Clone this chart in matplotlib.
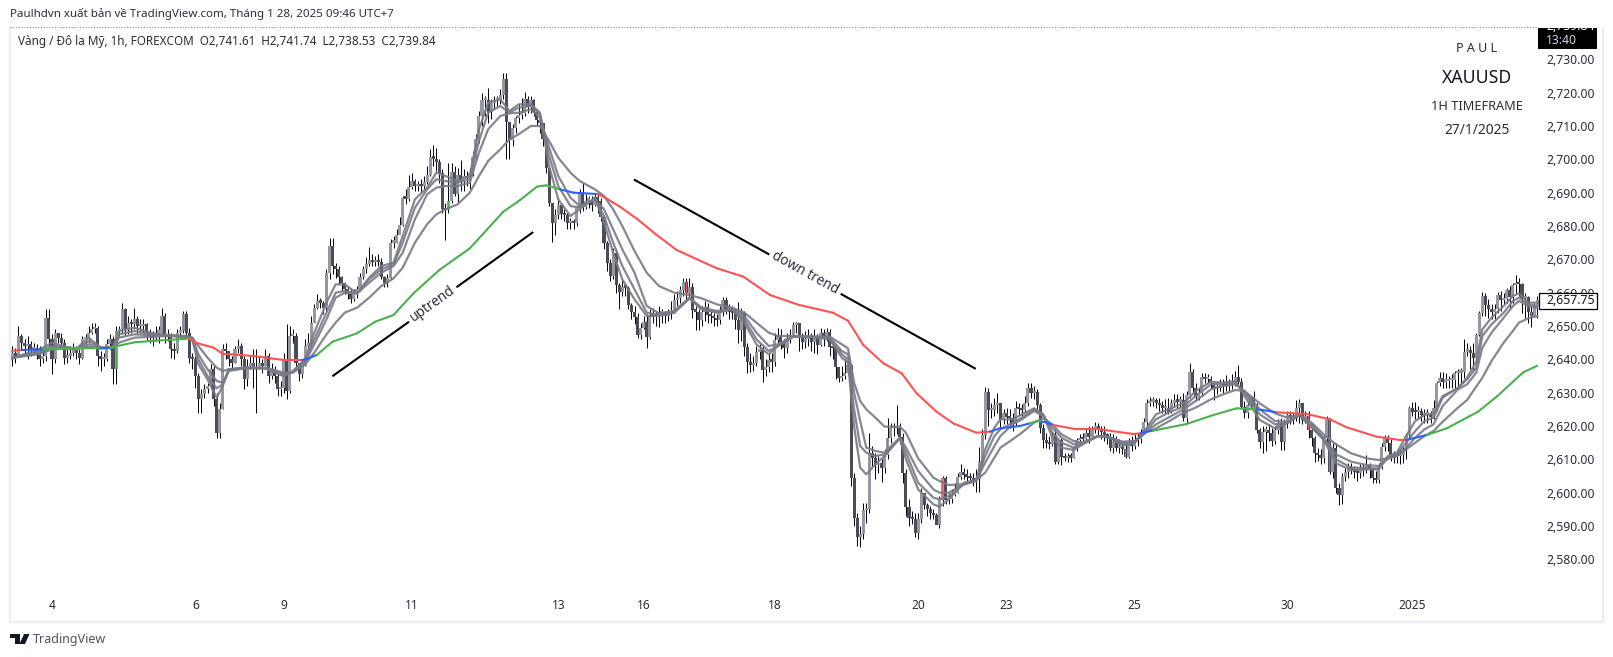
import matplotlib
matplotlib.use("Agg")
import matplotlib.pyplot as plt
from matplotlib.patches import Rectangle, Polygon
from matplotlib.lines import Line2D

plt.rcParams['font.family'] = ['Noto Sans', 'DejaVu Sans']

# gia dong cua, cao, thap theo tung nen 1h
closes = [
    2640, 2642, 2641, 2647, 2645, 2644, 2644.5, 2643, 2643.5, 2642,
    2640, 2641, 2652.5, 2646, 2640, 2648, 2646.5, 2645, 2640.5, 2641,
    2642, 2643.5, 2642, 2640.5, 2646, 2646, 2648, 2649, 2649.5, 2641,
    2640, 2640, 2644.5, 2646, 2637, 2648.5, 2649, 2655, 2649, 2651,
    2650.5, 2652, 2650, 2650, 2650.5, 2648, 2647, 2646.5, 2648, 2648,
    2653, 2647, 2647.5, 2643, 2642.5, 2648, 2648.5, 2653.5, 2648, 2640.5,
    2640, 2635, 2628, 2629.5, 2631, 2632, 2637, 2628, 2618, 2625,
    2643, 2642.5, 2640, 2639, 2643, 2644, 2640, 2634, 2638, 2639,
    2637, 2637.5, 2639, 2638, 2641, 2635, 2637, 2635, 2631, 2631.5,
    2640, 2630.5, 2647, 2647, 2639, 2635.5, 2638, 2644, 2645, 2651,
    2655.3, 2657.5, 2657, 2655.5, 2665.8, 2674, 2668, 2667, 2664.8, 2662.8,
    2661, 2659.5, 2658, 2659.5, 2661, 2664.8, 2667.2, 2668.7, 2669.7, 2669.2,
    2669.7, 2669.2, 2664.8, 2662.8, 2664.3, 2675, 2675, 2677.4, 2680.3, 2688.3,
    2688.2, 2691.8, 2693.4, 2692, 2692.5, 2692, 2693.2, 2695.4, 2700.8, 2700.2,
    2699.3, 2696, 2685.2, 2684.7, 2687.6, 2696.3, 2689.7, 2695.2, 2693.4, 2695,
    2694.4, 2696, 2700.8, 2706, 2712.9, 2717.7, 2717.7, 2714.3, 2716.8, 2717.7,
    2717.7, 2719.2, 2724.2, 2711.3, 2705.8, 2709.3, 2712.3, 2713.3, 2713.8, 2718.2,
    2715.8, 2717.7, 2714.3, 2711.9, 2710.9, 2706, 2697.3, 2686.9, 2680.8, 2683.2,
    2686.2, 2683.7, 2683.2, 2680.8, 2681.3, 2680.8, 2685.3, 2689.6, 2685.7, 2687.6,
    2687.6, 2686.2, 2688.6, 2687.6, 2682.7, 2675, 2668.8, 2665, 2672, 2662.3,
    2660.3, 2661.8, 2661.5, 2656.3, 2654.3, 2652.8, 2647.3, 2649.3, 2651.3, 2646.8,
    2653.3, 2652.8, 2653.3, 2653.8, 2653.8, 2653, 2653.5, 2654.8, 2657.8, 2658.3,
    2660.8, 2663.3, 2659.8, 2661.8, 2654.8, 2654.3, 2651.8, 2654.3, 2655.8, 2653.3,
    2653, 2652.3, 2651.8, 2654.3, 2657.8, 2655, 2654.3, 2654, 2651.8, 2648.8,
    2653.8, 2643.8, 2639.3, 2638.3, 2638.8, 2642.3, 2642.8, 2636.8, 2637.8, 2639.8,
    2639.3, 2645.8, 2647.3, 2645.3, 2643.3, 2646.3, 2647.3, 2650.3, 2650.8, 2646.3,
    2645.3, 2646, 2646.3, 2645.3, 2646.3, 2644.3, 2647.8, 2646.8, 2648.3, 2643.8,
    2643.3, 2637.8, 2634.3, 2635, 2636, 2638.3, 2604.3, 2592.3, 2586.8, 2587.5,
    2594.8, 2595, 2611.8, 2610.3, 2608.3, 2608.8, 2607.3, 2611.3, 2616.3, 2619.3,
    2619.8, 2619.3, 2616.8, 2605.8, 2595.8, 2592.3, 2592, 2587.8, 2592, 2599.8,
    2596.3, 2595, 2593.8, 2593.3, 2590.3, 2597.8, 2604.3, 2597.8, 2598, 2599.3,
    2600, 2604.8, 2606.3, 2605.3, 2604.8, 2604.3, 2603.8, 2604, 2609.3, 2617.3,
    2630.3, 2624.8, 2624.8, 2626.3, 2627,
    2621.8, 2623.8, 2622.8, 2622.3, 2620.8, 2625.3, 2625, 2624.8, 2626.8, 2631.3,
    2629.8, 2630.3, 2626.3, 2619.3, 2615.8, 2614.8, 2614.6, 2617.3, 2609.3, 2615.8,
    2610.8, 2610.3, 2610.8, 2610.5, 2613.3, 2615.8, 2616.3, 2616, 2617.8, 2616.8,
    2618.8, 2620.1, 2618.8, 2618.3, 2617.3, 2616.8, 2613.3, 2615.3, 2613.3, 2613.8,
    2613, 2610.8, 2614.8, 2614, 2615.8, 2616, 2618.3, 2621.3, 2626.8, 2627.3,
    2627.5, 2627, 2626.3, 2625.3, 2625.5, 2624.3, 2626.8, 2627.8, 2627.3, 2627.8,
    2622.3, 2629.3, 2636.3, 2631.3, 2628.8, 2630, 2634.8, 2634, 2634.2, 2632.8,
    2631.3, 2631.5, 2632.5, 2632.3, 2632, 2632.3, 2633, 2634.6, 2633.3, 2625.8,
    2623.8, 2626.3, 2628.8, 2625.8, 2618.8, 2615.3, 2618.3, 2618.8, 2618, 2615.6,
    2618.8, 2620.8, 2615.3, 2620.8, 2623.3, 2622.3, 2622.3, 2625.3, 2626.8, 2621.8,
    2623, 2618.8, 2616.3, 2611.8, 2611.3, 2610.3, 2616.3, 2621.8, 2606.3, 2613.3,
    2601.3, 2599.3, 2604.8, 2606.3, 2607.8, 2606.8, 2606.3, 2605.8, 2607, 2606.8,
    2608.3, 2607, 2604.3, 2603.8, 2607.8, 2613.8, 2616.3, 2615, 2611.3, 2610.8,
    2611, 2611.3, 2613, 2617.3, 2625.3, 2624.3, 2624.2, 2624.5, 2623.3, 2623.5,
    2623.6, 2622.8, 2625.3, 2632.8, 2634.3, 2633.3, 2633.5, 2633.8, 2633.8, 2635.8,
    2636, 2636.3, 2642.3, 2642.8, 2641.8, 2640.3, 2647.3, 2653.8, 2659.1, 2656.3,
    2655, 2654.3, 2655, 2659.3, 2657.8, 2658, 2660.8, 2658.8, 2662.3, 2662.8,
    2662.5, 2658.3, 2658.8, 2654.3, 2653, 2656, 2657.75,
]

highs = [
    2642, 2644, 2643.5, 2650, 2647.5, 2646, 2647, 2645.5, 2645, 2644.5,
    2644, 2643.5, 2655, 2655, 2647.5, 2649, 2648, 2648, 2646, 2643,
    2644, 2645, 2644, 2643, 2647, 2647.5, 2650, 2651, 2651, 2650,
    2642.5, 2642, 2646, 2647.5, 2647, 2650, 2650, 2657, 2655.5, 2653,
    2652, 2655.5, 2653, 2652, 2652, 2651, 2649, 2648.5, 2650, 2650,
    2655.5, 2654, 2649, 2648, 2645, 2649, 2650, 2654.5, 2654.5, 2649.5,
    2642, 2641, 2636, 2631, 2632.5, 2633, 2638.5, 2638, 2630, 2627,
    2644.5, 2645, 2642, 2641, 2644, 2646, 2645, 2641, 2640, 2641,
    2643, 2643, 2641, 2640, 2643, 2642, 2639, 2638, 2636, 2633.5,
    2642, 2650.5, 2650, 2649, 2648, 2638, 2640, 2646, 2648, 2653,
    2656.5, 2659.5, 2658.5, 2657.5, 2667, 2676.3, 2676.3, 2669, 2668, 2665,
    2663, 2662, 2661, 2661, 2662, 2666, 2668, 2670.8, 2673.8, 2671.5,
    2671, 2671.5, 2670.5, 2665, 2665.5, 2676, 2677, 2679, 2682.8, 2689,
    2691, 2695.3, 2695.8, 2694, 2693.5, 2694, 2695, 2698, 2703, 2704.3,
    2703.3, 2700, 2697, 2687, 2698.8, 2698.8, 2698, 2697.5, 2699.8, 2697,
    2696.5, 2697.5, 2702.5, 2707.5, 2714.5, 2719.8, 2719, 2721.3, 2718, 2719,
    2719, 2721, 2726, 2726, 2707, 2710.5, 2713, 2716.5, 2718.5, 2720.3,
    2719, 2719, 2718, 2714, 2712.5, 2711, 2706.5, 2697.5, 2687, 2685,
    2688, 2687, 2685, 2684, 2682.5, 2682, 2686, 2691, 2692.8, 2689.5,
    2689, 2689, 2690, 2690, 2688.5, 2683, 2675.5, 2670, 2673.5, 2673,
    2663, 2664, 2663, 2662, 2657, 2656, 2654, 2651, 2653, 2653.5,
    2655, 2655.5, 2654.5, 2656, 2655, 2654.5, 2655, 2657.5, 2659.5, 2660.5,
    2662, 2664.3, 2664.3, 2664.3, 2663, 2656, 2655, 2656, 2657.5, 2657,
    2654.5, 2654, 2653.5, 2656, 2658.8, 2658.8, 2656.5, 2656, 2655, 2657.3,
    2655.5, 2654.5, 2645, 2642, 2641, 2644, 2644.5, 2644, 2640, 2642,
    2642, 2648, 2649.5, 2649, 2646, 2648, 2649, 2651.3, 2651.3, 2651,
    2648, 2648.5, 2649, 2648, 2649, 2647.5, 2649.5, 2649, 2649.3, 2649,
    2645.5, 2640, 2637, 2638, 2640, 2641, 2638.5, 2606, 2594, 2590,
    2597, 2597, 2617.8, 2614, 2612, 2611, 2610, 2613, 2622.3, 2621,
    2621, 2626.3, 2621, 2618, 2607, 2598, 2594.5, 2594, 2594, 2601.5,
    2600, 2597, 2596, 2595, 2594, 2599, 2605, 2605, 2600, 2601,
    2603, 2606, 2608.5, 2607.5, 2607, 2606, 2606, 2607, 2613.8, 2619,
    2631.8, 2631.5, 2627, 2628.5, 2630,
    2625, 2625, 2625.5, 2625, 2624, 2627.5, 2627, 2626.5, 2629, 2632.8,
    2633, 2632, 2631, 2627, 2620.5, 2618, 2617, 2618.5, 2619, 2616.5,
    2616.5, 2612, 2612, 2612, 2614, 2616.5, 2617.5, 2618, 2619.5, 2620,
    2620, 2621.3, 2621, 2620, 2620, 2618, 2618, 2617.5, 2617, 2616,
    2615.5, 2615, 2616.5, 2617, 2617.5, 2618, 2619, 2622.5, 2628, 2628.8,
    2628.8, 2628.5, 2628.5, 2627.5, 2628, 2628.5, 2628, 2629.5, 2629.5, 2629,
    2629.8, 2630.5, 2638.8, 2637, 2633, 2631.5, 2636, 2635.8, 2635.5, 2635,
    2633, 2633, 2634, 2634, 2635.3, 2634, 2635.5, 2636.5, 2638.3, 2634.5,
    2627.5, 2627.5, 2629, 2630.5, 2627, 2619.5, 2620, 2620, 2620.5, 2619.5,
    2620, 2622, 2622.5, 2622, 2624.5, 2624.5, 2624, 2627.8, 2628, 2627,
    2624.5, 2624.5, 2620, 2617, 2613.5, 2613, 2617, 2623, 2622.5, 2615,
    2615, 2603, 2606, 2607.5, 2609, 2609, 2608, 2607.5, 2608.5, 2608.5,
    2611.3, 2609, 2607.5, 2606.5, 2609, 2615, 2617.3, 2617.3, 2616, 2612.5,
    2612.5, 2613, 2614, 2618, 2626, 2627.3, 2627.3, 2626, 2625.5, 2625,
    2625, 2624.5, 2627.8, 2633.5, 2636.3, 2636.3, 2636, 2635, 2635.5, 2636.5,
    2637, 2637.5, 2646, 2645, 2644, 2645, 2648, 2654.5, 2660.3, 2660,
    2658, 2656.5, 2656.5, 2660.3, 2660.5, 2660, 2661.5, 2662, 2663, 2665.3,
    2664.5, 2663, 2660, 2659, 2656, 2657, 2659,
]

lows = [
    2637, 2638, 2639, 2641, 2643, 2641.5, 2640, 2641, 2641.5, 2640,
    2638, 2639, 2639.5, 2644, 2635.5, 2639, 2645, 2643, 2638.5, 2639,
    2640, 2641, 2640, 2638.5, 2640, 2644, 2645, 2647.5, 2648, 2638,
    2636.5, 2638, 2639.5, 2643, 2632.5, 2632.5, 2647, 2648, 2647, 2647.5,
    2648, 2649, 2647.5, 2648, 2648, 2645.5, 2645, 2644, 2645.5, 2645,
    2647, 2645, 2645.5, 2640.5, 2640, 2642, 2646.5, 2648, 2646, 2639,
    2637, 2631.5, 2624, 2624, 2628.5, 2630, 2631, 2626, 2616.5, 2616.5,
    2625, 2640, 2638, 2637, 2639, 2642, 2638, 2631, 2632, 2637,
    2631.5, 2624, 2637, 2636, 2638, 2633, 2634, 2633, 2629, 2629,
    2630, 2628, 2630, 2645, 2637.5, 2633.5, 2634.5, 2638, 2643, 2644,
    2654, 2655, 2655.5, 2653.5, 2654.5, 2664, 2665.5, 2664.5, 2662.5, 2660.5,
    2659.5, 2658, 2657, 2657.5, 2658.5, 2660.5, 2664, 2666, 2668, 2668,
    2668, 2668, 2664, 2661.8, 2661.8, 2664, 2673.5, 2675, 2677.5, 2680,
    2686.5, 2687.5, 2691, 2690.5, 2690.5, 2690, 2691, 2692.5, 2695, 2698,
    2696.5, 2693, 2684, 2675.8, 2684, 2687, 2689, 2686.8, 2690.5, 2690.5,
    2692, 2691, 2695, 2700, 2705, 2710, 2713, 2711, 2712, 2715,
    2716, 2716.5, 2718, 2700, 2700, 2704, 2708, 2711, 2712, 2713,
    2714, 2714, 2713, 2710, 2708, 2704, 2696, 2686, 2675.3, 2677.3,
    2682, 2682, 2681.5, 2679, 2679, 2679, 2680, 2684, 2684.5, 2685,
    2685.5, 2684.5, 2686, 2684, 2681.5, 2673, 2666.5, 2663.5, 2664, 2660,
    2655, 2659, 2659, 2655, 2652, 2650.5, 2646.3, 2646, 2649, 2643.5,
    2646, 2651, 2650, 2649.6, 2651, 2651, 2651.5, 2652, 2654, 2656,
    2657, 2659, 2658, 2658, 2652.5, 2648.8, 2648.8, 2650, 2651.5, 2651,
    2651, 2650, 2650, 2650.5, 2653, 2653.5, 2652, 2652, 2649, 2645,
    2645.5, 2641, 2636, 2636.3, 2636.5, 2638, 2640, 2633.3, 2635, 2636.3,
    2636.3, 2638, 2645, 2643, 2640.5, 2642, 2645, 2647, 2648, 2642.5,
    2643, 2643.5, 2644, 2642.5, 2642, 2641.5, 2644, 2644, 2645.5, 2641,
    2640, 2634, 2633.3, 2633.5, 2634, 2636, 2602, 2590, 2584, 2583.8,
    2586, 2591, 2594, 2608, 2604, 2606, 2603.3, 2606, 2610, 2615,
    2617, 2617.5, 2614.5, 2603, 2593, 2590, 2590.5, 2586.8, 2586, 2591,
    2595, 2593, 2592, 2592, 2591, 2589.3, 2596, 2596.5, 2596.5, 2597,
    2599, 2600, 2604, 2604, 2603.5, 2603, 2602, 2600.3, 2600.3, 2608,
    2616, 2620, 2622.5, 2623, 2624,
    2619, 2620.5, 2620.5, 2619.5, 2618.5, 2620, 2623, 2623, 2624, 2626,
    2628.5, 2628, 2625, 2618, 2613.3, 2613.5, 2613, 2614, 2608.5, 2608.5,
    2608.3, 2609.5, 2609.3, 2609.3, 2610.5, 2612.5, 2614.5, 2614.5, 2615.5, 2615,
    2616.5, 2618, 2617, 2616, 2615.5, 2614.5, 2612.5, 2612, 2612.5, 2612,
    2611.5, 2610.3, 2610.3, 2612.5, 2613, 2614, 2615, 2617.5, 2620, 2626,
    2626, 2625.5, 2624.5, 2624, 2623.5, 2623.5, 2624, 2626, 2625.5, 2625.5,
    2621.5, 2621, 2628.5, 2630, 2627.5, 2627.8, 2629, 2633, 2633, 2631,
    2627.8, 2629.5, 2630.5, 2630, 2630.5, 2630.5, 2631, 2632, 2632, 2625,
    2622.5, 2622.5, 2625.5, 2625, 2618, 2613.5, 2611.8, 2612.5, 2615.5, 2614,
    2614.5, 2617.5, 2612.8, 2612.8, 2619.5, 2620.5, 2620.5, 2621.5, 2621, 2620.5,
    2621, 2616.5, 2614, 2609.3, 2609.5, 2608.5, 2609, 2615, 2605.5, 2604.5,
    2600, 2596.3, 2596.5, 2603.5, 2604.5, 2605.5, 2604.5, 2603.5, 2604.5, 2605,
    2606, 2604.5, 2602.8, 2602.8, 2603, 2607, 2612.5, 2612.5, 2609.5, 2609,
    2609, 2608.5, 2609, 2610, 2616.5, 2623, 2622, 2622, 2621.5, 2621,
    2621, 2621, 2622, 2624.5, 2632, 2631.5, 2631.5, 2631.5, 2631.5, 2631.3,
    2632, 2633, 2634.5, 2641, 2637, 2636.3, 2639.5, 2647, 2653, 2653,
    2652.5, 2652, 2652, 2654, 2654.5, 2656.5, 2657, 2655, 2657, 2660,
    2659, 2654, 2652.5, 2651, 2649.8, 2653, 2652.5,
]

green_bars = [35, 48, 57, 144, 147, 174, 499]
pink_bars = [80, 222, 288, 291, 306, 366, 426, 433, 445]

# 4 duong MA xam, doc tai cac nen trong ma_bars
ma_bars = [
    0, 4, 10, 14, 18, 22, 26, 30, 34, 36, 41, 47, 52, 58, 60, 62, 65, 68, 70, 72, 77, 84, 90, 93, 97,
    100, 104, 107, 110, 114, 118, 122, 126, 129, 133, 137, 140, 143, 147, 151, 154, 157, 161, 164, 167, 171, 174, 177, 180, 184, 187, 192, 195, 198,
    201, 205, 209, 213, 218, 223, 227, 232, 237, 241, 245, 249, 252, 257, 263, 269, 273, 275, 277, 279, 281, 284, 287, 292, 294, 298, 303, 305, 308, 313, 317, 320, 323, 325,
    329, 332, 336, 339, 342, 345, 349, 352, 357, 361, 365, 369, 373, 376, 380, 385, 389, 394, 398, 402, 405, 410, 415, 419, 423, 427, 431, 435, 440, 445, 449, 452, 455, 458, 461, 464, 467, 470, 475, 478, 481, 483, 486, 490, 493, 495, 498, 501,
]
ma_a = [
    2639.8, 2641.3, 2643, 2645, 2643.8, 2643.2, 2646.5, 2643.5, 2643.5, 2648.5, 2649.5, 2647.8, 2647.3, 2647, 2646, 2638.5, 2634, 2628.5, 2632, 2637, 2637.5, 2637.3, 2635, 2636.5, 2640,
    2648, 2657, 2662.5, 2662.5, 2659.8, 2664.5, 2668, 2669, 2677, 2688, 2691.5, 2696, 2695, 2693.5, 2695, 2709, 2717, 2718, 2714.5, 2716.5, 2716.5, 2714, 2698, 2688, 2683, 2685, 2688.5, 2681, 2672,
    2664, 2658, 2653, 2653, 2654, 2658.3, 2655, 2654, 2655, 2651, 2644.5, 2641.5, 2644, 2646.8, 2646.8, 2646, 2640.5, 2639, 2620, 2607.5, 2605.5, 2608.5, 2611, 2616.3, 2610, 2601, 2596.5, 2595.8, 2598, 2603, 2603.8, 2613, 2619.5, 2622,
    2622, 2623.5, 2625.3, 2623.5, 2616.5, 2613.5, 2612.8, 2614.5, 2617, 2616.5, 2614, 2615, 2619.5, 2623.5, 2625, 2626.8, 2630.5, 2633.3, 2633, 2633.5, 2629, 2621.8, 2619.3, 2620.8, 2623.3, 2619.5, 2615.8, 2608.8, 2606.8, 2607, 2607, 2611, 2612, 2617, 2621.5, 2623.3, 2623.8, 2629, 2631.3, 2634.5, 2639.3, 2649, 2652.5, 2656, 2659, 2659.8, 2657, 2657,
]
ma_b = [
    2640, 2641.1, 2642.5, 2644, 2643.8, 2643, 2645.5, 2643.5, 2643.5, 2647.5, 2648.5, 2647.5, 2647.2, 2646.8, 2646.3, 2640, 2635, 2631.3, 2632.5, 2637, 2637.5, 2637.3, 2635, 2636.3, 2639.5,
    2646, 2654, 2660, 2660.5, 2659.8, 2664, 2667, 2668.5, 2675, 2685.5, 2691, 2694, 2693.5, 2693, 2694, 2705.5, 2714, 2716, 2714, 2715.5, 2716, 2713.5, 2701, 2692, 2686, 2685.5, 2688, 2683, 2675,
    2668, 2661, 2654, 2653.3, 2654, 2658.3, 2655.2, 2654.2, 2655, 2652, 2646, 2642.5, 2644, 2646.8, 2646.8, 2646.3, 2641.5, 2640, 2625, 2614, 2612, 2611, 2611.5, 2616.3, 2612, 2603, 2598.5, 2598, 2599, 2602.5, 2603.5, 2611, 2617, 2619,
    2621, 2622.5, 2625, 2623.5, 2618, 2615, 2613.5, 2614.8, 2617, 2616.5, 2614.5, 2615, 2618.8, 2622, 2624, 2625.8, 2629, 2632.5, 2632.8, 2633, 2630, 2623.5, 2620.5, 2621, 2623.3, 2620, 2616, 2610, 2607.5, 2607.5, 2607.2, 2610.5, 2611.5, 2615, 2618.5, 2621.5, 2622.5, 2628.5, 2631.5, 2634, 2637.5, 2647, 2650.5, 2654, 2657.5, 2658.5, 2656.5, 2656,
]
ma_c = [
    2640.3, 2641, 2642, 2643.5, 2643.5, 2643, 2644.5, 2643.5, 2643.5, 2646.5, 2647.5, 2647.2, 2647, 2646.8, 2646.5, 2641.5, 2637, 2633.5, 2633, 2636.5, 2637.3, 2637.3, 2635.5, 2636.2, 2639,
    2644.5, 2652, 2658.5, 2660, 2659.8, 2663, 2666, 2668, 2672, 2682, 2689.5, 2691.5, 2692, 2692, 2693, 2702, 2709, 2713, 2713.8, 2714, 2715, 2712.5, 2703.5, 2695, 2688.5, 2686, 2688, 2685, 2679,
    2673, 2666, 2656, 2653.8, 2654.5, 2658.5, 2655.5, 2654.5, 2655.2, 2653, 2648, 2644, 2644.5, 2646.8, 2646.8, 2646.5, 2642.5, 2641.5, 2630, 2621.5, 2613.5, 2612.5, 2612, 2616.5, 2613.5, 2606.5, 2601, 2600, 2600, 2602.5, 2603.5, 2609, 2614, 2617,
    2620.5, 2622, 2624.5, 2623, 2619.5, 2616.5, 2614.5, 2615, 2617, 2616.5, 2615, 2615.2, 2618.5, 2620.5, 2622.5, 2625, 2627.5, 2631, 2632, 2632.5, 2630.5, 2625, 2621.5, 2621.3, 2623.3, 2620.5, 2616.5, 2611.5, 2609.3, 2608.3, 2608, 2610.2, 2611, 2613.5, 2616.5, 2619, 2620.5, 2626, 2631, 2632.5, 2636, 2643.5, 2648, 2652.5, 2656, 2657.5, 2656, 2655.5,
]
ma_d = [
    2640.5, 2640.8, 2641.6, 2643, 2643.3, 2643, 2643.8, 2643.3, 2643.5, 2645, 2646.5, 2646.8, 2647, 2646.8, 2646.5, 2644, 2640.5, 2637.5, 2636.5, 2637, 2637.3, 2637.5, 2636, 2636, 2638.5,
    2642, 2647.5, 2651, 2654, 2655.5, 2658.5, 2662, 2664.3, 2667.5, 2675, 2680.5, 2683.5, 2685, 2686.5, 2690, 2695, 2699.5, 2703, 2706, 2707.5, 2710, 2710, 2705.5, 2700.5, 2696, 2693.5, 2691, 2689, 2685,
    2680, 2672.5, 2666, 2662, 2660, 2659.3, 2658.3, 2656.5, 2655.5, 2654, 2651, 2648, 2647, 2647, 2646.8, 2646.8, 2644.5, 2643.3, 2633, 2627.5, 2625, 2622.5, 2619.8, 2619.8, 2618, 2610.3, 2604.5, 2603.5, 2602.3, 2602.5, 2603.8, 2606, 2610.5, 2613.5,
    2616, 2618, 2621, 2622.3, 2620.5, 2617.5, 2615.5, 2615, 2617, 2616.5, 2615.3, 2615.5, 2618.2, 2619.3, 2621.3, 2624, 2625.5, 2628, 2629.5, 2630.8, 2630.5, 2626.8, 2623.8, 2622.5, 2623.3, 2621, 2617.5, 2614.5, 2611.8, 2610.3, 2609.8, 2610.3, 2611, 2613, 2615, 2617, 2618.5, 2621.3, 2625.5, 2627.8, 2631.8, 2634.5, 2639.5, 2645, 2648.5, 2651, 2652.3, 2653,
]

# duong cham doi mau: r do, g xanh la, b xanh duong
slow_bars = [
    0.5, 4, 11, 24, 30, 33, 41, 48, 57, 58.8, 61, 67, 70, 73, 80, 90, 96, 98, 100.8, 106, 114, 120, 126, 132.5,
    141, 151, 156.5, 162, 167.5, 173, 176, 180.6, 185, 192.6, 194.8, 200.2, 206, 212, 218.8, 232, 240.7, 249.4,
    259, 270, 275, 280, 286.6, 292.6, 297.5, 304, 309.5, 317, 321.5, 324.8, 331.4, 334.6, 337, 338.5, 340, 342.3,
    350, 357.6, 368.5, 371, 373, 375, 386, 394.8, 402.4, 409, 411, 415.5, 417.7, 425.4, 433, 438.5, 448.3, 456,
    458, 464.7, 471.3, 481.6, 487.7, 496.4, 501,
]
slow_vals = [
    2642.5, 2642.8, 2643, 2643.4, 2643.3, 2643.5, 2645.1, 2645.6, 2646.1, 2646.3, 2645, 2643.5, 2641.6, 2641.5, 2641, 2639.8, 2639.8, 2640.3, 2641.3, 2645.3, 2647.8, 2651.3, 2653.3, 2659.8,
    2666.8, 2673.3, 2678.8, 2684.3, 2687.8, 2691.8, 2692.2, 2691, 2690, 2689.6, 2688.8, 2685.8, 2682, 2677.5, 2672.8, 2667.3, 2664.8, 2659.3,
    2656.3, 2654, 2651.6, 2644.3, 2638.8, 2635.8, 2629.8, 2624.3, 2620.8, 2618, 2618.3, 2619.3, 2620, 2620.8, 2621.5, 2621.3, 2621.1, 2620.3,
    2619, 2619, 2617.6, 2617.8, 2618.3, 2618.6, 2620.6, 2623.3, 2625.3, 2625, 2624.8, 2624.1, 2624, 2623.6, 2622, 2619.6, 2616.8, 2615.8,
    2615.8, 2617.3, 2619.3, 2624.3, 2628.8, 2636.1, 2638.1,
]
slow_cols = ("rbggbgggg" "rrrrrrr" "bb" "gggggg"
             "ggggggg" "bb" "rrrrrrrrr"
             "rrrrrrrrrr" "bbb" "gg" "bb" "r"
             "rrr" "bb" "gggg" "bb" "rrrrrrr"
             "bgggggg")

up_bars = [[106.2, 130.8], [146.9, 171.5]]
up_vals = [[2635.1, 2651.1], [2661.8, 2678]]
down_bars = [[205.1, 248.9], [272.9, 316.6]]
down_vals = [[2693.8, 2671.6], [2659.5, 2637.3]]

yticks = list(range(2580, 2740, 10))
xtick_pos = [14, 61, 90, 132, 180, 208, 251, 298, 327, 369, 419, 460]
xtick_labels = ['4', '6', '9', '11', '13', '16', '18', '20', '23', '25', '30', '2025']

W, H = 1613, 657
BG_LINE = '#ececf1'
TXT = '#2a2e39'

fig = plt.figure(figsize=(W / 100, H / 100), dpi=100, facecolor='white')


def fx(x):
    return x / W


def fy(y):
    return 1 - y / H


ax = fig.add_axes([fx(11), fy(621), (1540 - 11) / W, (621 - 28) / H])
ax.set_xlim(0.56, 501.9)
ax.set_ylim(2561.5, 2739.4)
for s in ax.spines.values():
    s.set_visible(False)

# nen
opens = [closes[0] - 2] + closes[:-1]
bars = list(range(len(closes)))
ax.vlines(bars, lows, highs, color='black', lw=0.7, zorder=2)
for i in bars:
    o, c = opens[i], closes[i]
    col = '#9598a1' if c >= o else '#4a4c59'
    bot = min(o, c)
    h = max(abs(c - o), 0.7)
    ax.bar(i, h, bottom=bot, width=1.0, color=col, lw=0, zorder=3)
    if i in green_bars:
        ax.bar(i, h, bottom=bot, width=0.35, color='#4caf50', lw=0, zorder=3.5)
    if i in pink_bars:
        ax.bar(i, h, bottom=bot, width=0.35, color='#f7525f', lw=0, zorder=3.5)

for vals in (ma_a, ma_b, ma_c, ma_d):
    ax.plot(ma_bars, vals, color='#787b86', lw=1.6, alpha=0.9, zorder=4)

col_map = {'r': '#ff5252', 'g': '#4caf50', 'b': '#2962ff'}
for k in range(len(slow_bars) - 1):
    ax.plot(slow_bars[k:k + 2], slow_vals[k:k + 2], color=col_map[slow_cols[k]], lw=1.5,
            solid_capstyle='round', zorder=4)

for xs, ys in zip(up_bars + down_bars, up_vals + down_vals):
    ax.plot(xs, ys, color='black', lw=1.5, zorder=5)
ax.text(138.8, 2656.5, 'uptrend', rotation=35.5, rotation_mode='anchor', ha='center', va='center',
        fontsize=9.8, color=TXT, zorder=5)
ax.text(260.9, 2665.8, 'down trend', rotation=-29, rotation_mode='anchor', ha='center', va='center',
        fontsize=9.8, color=TXT, zorder=5)

# truc
ax.yaxis.tick_right()
ax.set_yticks(yticks)
ax.set_yticklabels([f'{v:,.2f}' for v in yticks])
ax.tick_params(axis='y', length=0, pad=4.5, labelsize=8.8, labelcolor=TXT)
ax.set_xticks(xtick_pos)
ax.set_xticklabels(xtick_labels)
ax.tick_params(axis='x', length=0, pad=-16, labelsize=8.6, labelcolor=TXT)
ax.get_xticklabels()[-1].set_fontweight('bold')

# khung
fig.add_artist(Line2D([fx(10), fx(10)], [fy(28), fy(622)], color=BG_LINE, lw=1.6))
fig.add_artist(Line2D([fx(10), fx(1603)], [fy(622), fy(622)], color=BG_LINE, lw=1.6))
fig.add_artist(Line2D([fx(1603), fx(1603)], [fy(28), fy(622)], color=BG_LINE, lw=1.6))
fig.add_artist(Line2D([fx(10), fx(1538)], [fy(27), fy(27)], color='#8a8d96', lw=0.8, ls=(0, (1, 1.5))))

fig.text(fx(10), fy(14.5), 'Paulhdvn xuất bản về TradingView.com, Tháng 1 28, 2025 09:46 UTC+7',
         fontsize=8.3, color=TXT, va='center', ha='left')
fig.text(fx(17.5), fy(42), 'Vàng / Đô la Mỹ, 1h, FOREXCOM  O2,741.61  H2,741.74  L2,738.53  C2,739.84',
         fontsize=8.45, color=TXT, va='center', ha='left')

fig.text(fx(1477), fy(48), 'P A U L', fontsize=9, color=TXT, va='center', ha='center')
fig.text(fx(1477), fy(78), 'XAUUSD', fontsize=12.7, color='#131722', va='center', ha='center')
fig.text(fx(1477), fy(106), '1H TIMEFRAME', fontsize=9.2, color=TXT, va='center', ha='center')
fig.text(fx(1477), fy(130), '27/1/2025', fontsize=10, color=TXT, va='center', ha='center')

# nhan gia
box = Rectangle((fx(1538), fy(49)), 59 / W, 21 / H, transform=fig.transFigure, facecolor='black',
                edgecolor='none', zorder=6)
fig.add_artist(box)
t = fig.text(fx(1546), fy(27), '2,739.84', fontsize=8.8, color='white', va='center', ha='left', zorder=7)
t.set_clip_path(box)
t.set_clip_on(True)
fig.text(fx(1546), fy(40.5), '13:40', fontsize=8.8, color='#d1d4dc', va='center', ha='left', zorder=7)

fig.add_artist(Rectangle((fx(1539), fy(309)), 58 / W, 16 / H, transform=fig.transFigure, facecolor='white',
                         edgecolor='black', lw=0.9, zorder=6))
fig.text(fx(1546), fy(301), '2,657.75', fontsize=8.8, color='#131722', va='center', ha='left', zorder=7)

# logo
dark = '#131722'
fig.add_artist(Polygon([(fx(10), fy(634)), (fx(20), fy(634)), (fx(20), fy(644)), (fx(15), fy(644)),
                        (fx(15), fy(638)), (fx(10), fy(638))], closed=True, transform=fig.transFigure,
                       facecolor=dark, edgecolor='none'))
fig.add_artist(Polygon([(fx(24), fy(634)), (fx(29.5), fy(634)), (fx(25), fy(644)), (fx(19.5), fy(644))],
                       closed=True, transform=fig.transFigure, facecolor=dark, edgecolor='none'))
fig.text(fx(33), fy(639), 'TradingView', fontsize=9, color='#50535e', va='center', ha='left')

fig.savefig('out.png', dpi=100, facecolor='white')
